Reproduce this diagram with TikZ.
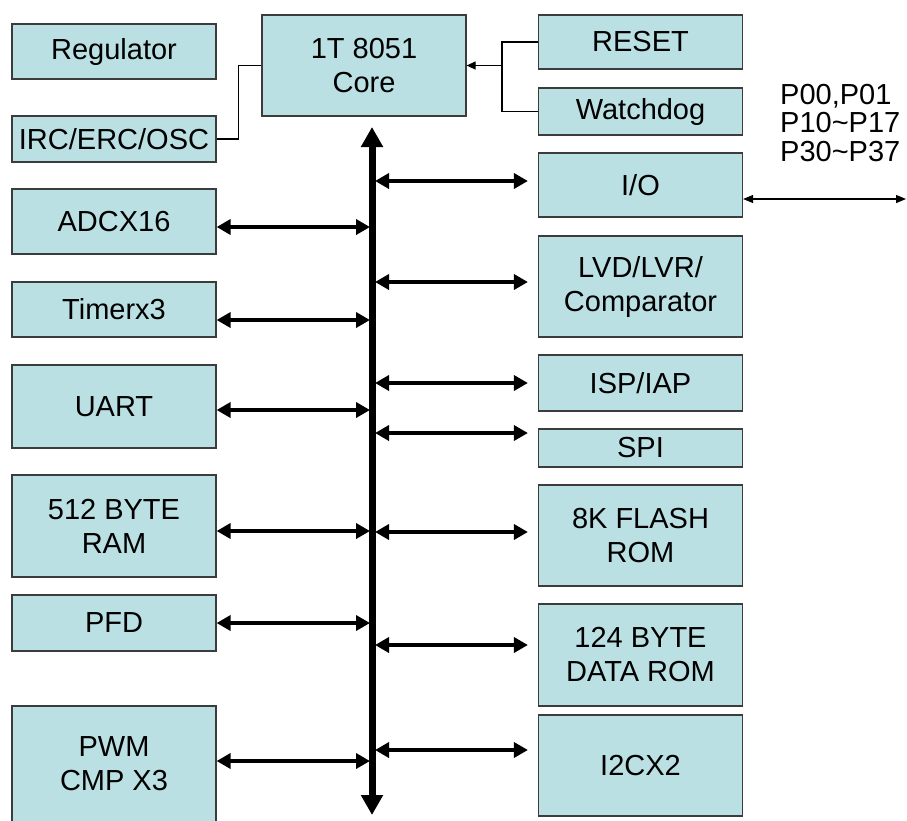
\documentclass[tikz,border=0pt]{standalone}
\usepackage{fontspec}
\setmainfont{Liberation Sans}
\usepackage{tikz}
\usetikzlibrary{arrows.meta,positioning,calc}

\definecolor{boxfill}{RGB}{186,224,227}
\definecolor{boxline}{RGB}{60,60,60}

\tikzset{
    blk/.style={draw=boxline, line width=1.2pt, fill=boxfill, minimum width=204pt,
        inner sep=0pt, align=center, font=\fontsize{29}{34}\selectfont},
    busline/.style={line width=7pt, {Triangle[length=20pt,width=21pt]}-{Triangle[length=20pt,width=21pt]}},
    link/.style={line width=4pt, {Triangle[length=14pt,width=15pt]}-{Triangle[length=14pt,width=15pt]}},
    wire/.style={line width=1.2pt}
}

\begin{document}
\begin{tikzpicture}[x=1pt,y=-1pt]
    \useasboundingbox (0,0) rectangle (907,820);

    % Core
    \node[blk, minimum height=101pt] (core) at (364,65.5) {1T 8051\\Core};

    % Left column
    \node[blk, minimum height=55pt]  (reg)  at (114,51.5)  {Regulator};
    \node[blk, minimum height=46pt]  (irc)  at (114,139)   {IRC/ERC/OSC};
    \node[blk, minimum height=65pt]  (adc)  at (114,221.5) {ADCX16};
    \node[blk, minimum height=55pt]  (tim)  at (114,309.5) {Timerx3};
    \node[blk, minimum height=83pt]  (uart) at (114,406.5) {UART};
    \node[blk, minimum height=102pt] (ram)  at (114,526)   {512 BYTE\\RAM};
    \node[blk, minimum height=56pt]  (pfd)  at (114,623)   {PFD};
    \node[blk, minimum height=116pt] (pwm)  at (114,764)   {PWM\\CMP X3};

    % Right column
    \node[blk, minimum height=54pt]  (reset) at (640.5,42)    {RESET};
    \node[blk, minimum height=47pt]  (wdog)  at (640.5,111.5) {Watchdog};
    \node[blk, minimum height=64pt]  (io)    at (640.5,185)   {I/O};
    \node[blk, minimum height=101pt] (lvd)   at (640.5,286.5) {LVD/LVR/\\Comparator};
    \node[blk, minimum height=56pt]  (isp)   at (640.5,383)   {ISP/IAP};
    \node[blk, minimum height=38pt]  (spi)   at (640.5,448)   {SPI};
    \node[blk, minimum height=101pt] (flash) at (640.5,535.5) {8K FLASH\\ROM};
    \node[blk, minimum height=102pt] (drom)  at (640.5,655)   {124 BYTE\\DATA ROM};
    \node[blk, minimum height=101pt] (iic)   at (640.5,765.5) {I2CX2};

    % Port pins
    \node[anchor=north west, inner sep=0pt, align=left, font=\fontsize{29}{28.5}\selectfont]
        (pins) at (780,84) {P00,P01\\P10\textasciitilde P17\\P30\textasciitilde P37};

    % Clock and reset wiring
    \coordinate (join) at (502,65.5);
    \draw[wire] (reset.west) -| (join) |- (wdog.west);
    \draw[wire, -{Triangle[length=9pt,width=8pt]}] (join) -- (core.east);
    \draw[wire] (irc.east) -- ++(22,0) |- (core.west);

    % I/O port
    \coordinate (pinend) at (906,199);
    \draw[wire, {Triangle[length=10pt,width=8pt]}-{Triangle[length=10pt,width=8pt]}] (io.east |- pinend) -- (pinend);

    % Internal bus
    \coordinate (bustop) at (372,127);
    \coordinate (busbot) at (372,815);
    \foreach \n/\y in {adc/227, tim/320, uart/410, ram/531, pfd/623, pwm/761} {
        \draw[link, shorten >=2pt] (\n.east |- 0,\y) -- (bustop |- 0,\y);
    }
    \foreach \n/\y in {io/181, lvd/282, isp/383, spi/433, flash/532, drom/645, iic/750} {
        \draw[link, shorten <=3pt, shorten >=10pt] (bustop |- 0,\y) -- (\n.west |- 0,\y);
    }
    \draw[busline] (bustop) -- (busbot);
\end{tikzpicture}
\end{document}
